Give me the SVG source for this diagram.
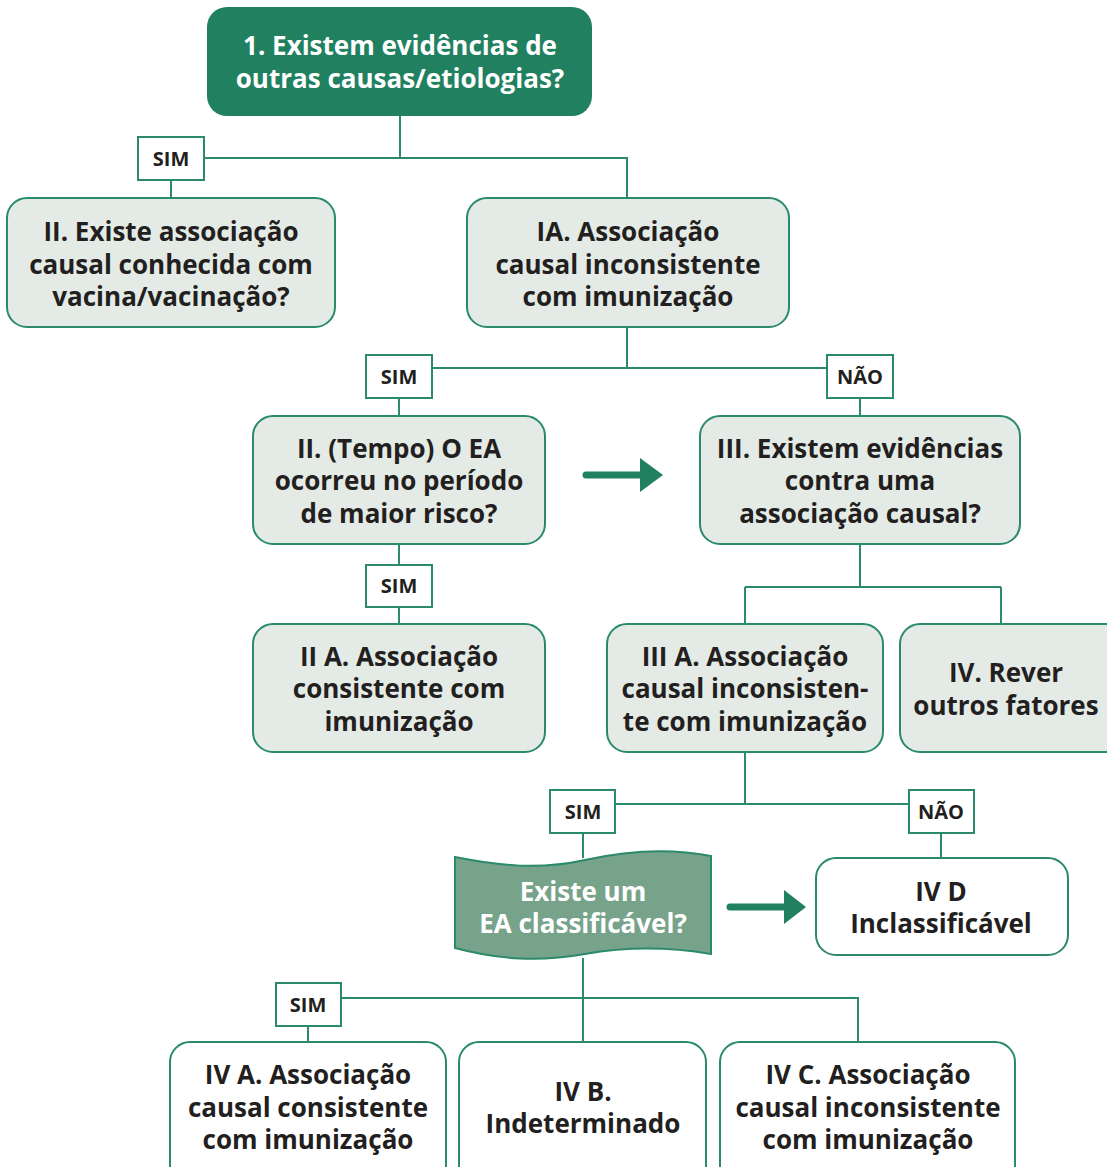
<svg xmlns="http://www.w3.org/2000/svg" width="1107" height="1167" viewBox="0 0 1107 1167">
<style>
.box{fill:#e4ebe6;stroke:#2a8a6a;stroke-width:2}
.wbox{fill:#ffffff;stroke:#2a8a6a;stroke-width:2}
.lbl{fill:#ffffff;stroke:#2a8a6a;stroke-width:2}
.t{font-family:"Open Sans","Noto Sans","Liberation Sans",sans-serif;font-weight:700;font-size:26px;fill:#231f20;text-anchor:middle}
.tw{font-family:"Open Sans","Noto Sans","Liberation Sans",sans-serif;font-weight:700;font-size:26px;fill:#ffffff;text-anchor:middle}
.s{font-family:"Open Sans","Noto Sans","Liberation Sans",sans-serif;font-weight:700;font-size:20px;fill:#231f20;text-anchor:middle}
.ln{fill:none;stroke:#2a8a6a;stroke-width:2}
.arr{fill:none;stroke:#21805f;stroke-width:7;stroke-linecap:round}
</style>
<rect width="1107" height="1167" fill="#ffffff"/>
<g id="connectors">
<path class="ln" d="M400,116 V158 M204,158 H627 V198 M171,180 V198"/>
<path class="ln" d="M627,327 V368 M432,368 H827 M399,398 V416 M860,398 V416"/>
<path class="ln" d="M399,544 V565 M399,607 V624"/>
<path class="ln" d="M860,544 V587 M745,587 H1001 M745,587 V624 M1001,587 V624"/>
<path class="ln" d="M745,752 V804 M615,804 H909 M583,833 V858 M941,833 V858"/>
<path class="ln" d="M583,958 V1042 M341,998 H858 V1042 M308,1026 V1042"/>
<path class="arr" d="M586,475 H642"/>
<polygon points="640,458 663,475 640,492" fill="#21805f"/>
<path class="arr" d="M730,907 H786"/>
<polygon points="784,890 806,907 784,924" fill="#21805f"/>
</g>
<g id="n1">
<rect x="207" y="7" width="385" height="109" rx="20" fill="#21805f"/>
<text class="tw" x="400" y="55">1. Existem evidências de</text>
<text class="tw" x="400" y="88">outras causas/etiologias?</text>
</g>
<g id="sim1"><rect class="lbl" x="138" y="137" width="66" height="43"/><text class="s" x="171" y="166">SIM</text></g>
<g id="n2">
<rect class="box" x="7" y="198" width="328" height="129" rx="20"/>
<text class="t" x="171" y="241">II. Existe associação</text>
<text class="t" x="171" y="274">causal conhecida com</text>
<text class="t" x="171" y="306">vacina/vacinação?</text>
</g>
<g id="nIA">
<rect class="box" x="467" y="198" width="322" height="129" rx="20"/>
<text class="t" x="628" y="241">IA. Associação</text>
<text class="t" x="628" y="274">causal inconsistente</text>
<text class="t" x="628" y="306">com imunização</text>
</g>
<g id="sim2"><rect class="lbl" x="366" y="355" width="66" height="43"/><text class="s" x="399" y="384">SIM</text></g>
<g id="nao1"><rect class="lbl" x="827" y="355" width="66" height="43"/><text class="s" x="860" y="384">NÃO</text></g>
<g id="nTempo">
<rect class="box" x="253" y="416" width="292" height="128" rx="20"/>
<text class="t" x="399" y="458">II. (Tempo) O EA</text>
<text class="t" x="399" y="490">ocorreu no período</text>
<text class="t" x="399" y="523">de maior risco?</text>
</g>
<g id="nIII">
<rect class="box" x="700" y="416" width="320" height="128" rx="20"/>
<text class="t" x="860" y="458">III. Existem evidências</text>
<text class="t" x="860" y="490">contra uma</text>
<text class="t" x="860" y="523">associação causal?</text>
</g>
<g id="sim3"><rect class="lbl" x="366" y="565" width="66" height="42"/><text class="s" x="399" y="593">SIM</text></g>
<g id="nIIA">
<rect class="box" x="253" y="624" width="292" height="128" rx="20"/>
<text class="t" x="399" y="666">II A. Associação</text>
<text class="t" x="399" y="698">consistente com</text>
<text class="t" x="399" y="731">imunização</text>
</g>
<g id="nIIIA">
<rect class="box" x="607" y="624" width="276" height="128" rx="20"/>
<text class="t" x="745" y="666">III A. Associação</text>
<text class="t" x="745" y="698">causal inconsisten-</text>
<text class="t" x="745" y="731">te com imunização</text>
</g>
<g id="nIV">
<rect class="box" x="900" y="624" width="230" height="128" rx="20"/>
<text class="t" x="1006" y="682">IV. Rever</text>
<text class="t" x="1006" y="715">outros fatores</text>
</g>
<g id="sim4"><rect class="lbl" x="550" y="790" width="65" height="43"/><text class="s" x="583" y="819">SIM</text></g>
<g id="nao2"><rect class="lbl" x="909" y="790" width="65" height="43"/><text class="s" x="941" y="819">NÃO</text></g>
<g id="nDoc">
<path d="M455,857 C500,866 540,870 585,860 C630,850 670,848 711,856 V954 C670,947 630,946 585,954 C540,962 500,960 455,948 Z" fill="#78a38b" stroke="#2a8a6a" stroke-width="2"/>
<text class="tw" x="583" y="901">Existe um</text>
<text class="tw" x="583" y="933">EA classificável?</text>
</g>
<g id="nIVD">
<rect class="wbox" x="816" y="858" width="252" height="97" rx="20"/>
<text class="t" x="941" y="901">IV D</text>
<text class="t" x="941" y="933">Inclassificável</text>
</g>
<g id="sim5"><rect class="lbl" x="276" y="983" width="65" height="43"/><text class="s" x="308" y="1012">SIM</text></g>
<g id="nIVA">
<rect class="wbox" x="170" y="1042" width="276" height="150" rx="20"/>
<text class="t" x="308" y="1084">IV A. Associação</text>
<text class="t" x="308" y="1117">causal consistente</text>
<text class="t" x="308" y="1149">com imunização</text>
</g>
<g id="nIVB">
<rect class="wbox" x="459" y="1042" width="247" height="150" rx="20"/>
<text class="t" x="583" y="1101">IV B.</text>
<text class="t" x="583" y="1133">Indeterminado</text>
</g>
<g id="nIVC">
<rect class="wbox" x="720" y="1042" width="295" height="150" rx="20"/>
<text class="t" x="868" y="1084">IV C. Associação</text>
<text class="t" x="868" y="1117">causal inconsistente</text>
<text class="t" x="868" y="1149">com imunização</text>
</g>
</svg>
